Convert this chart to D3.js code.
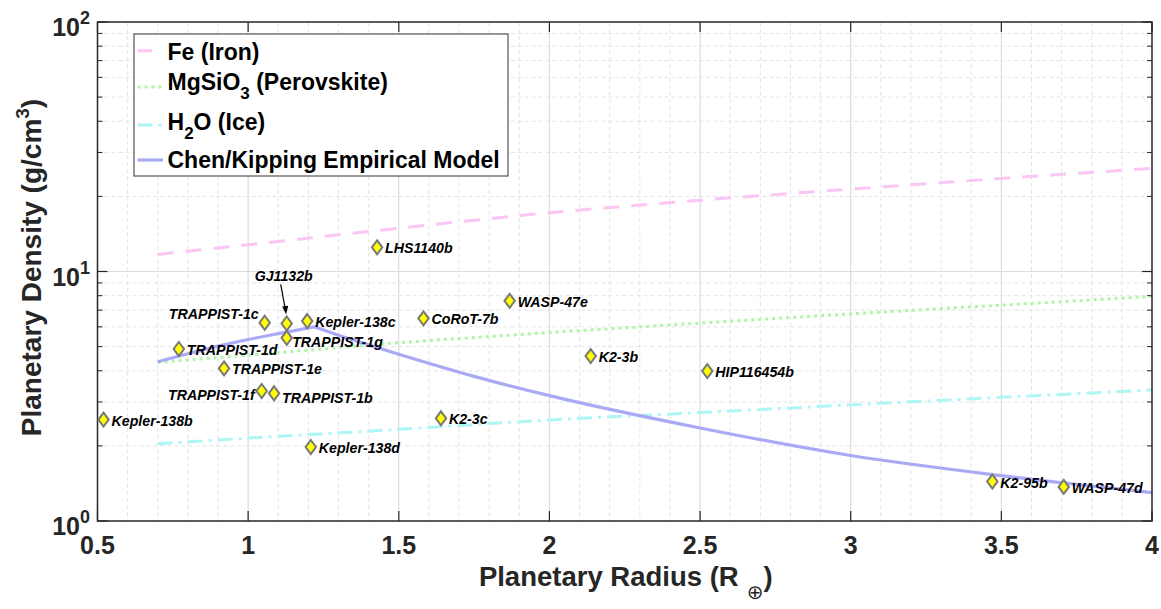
<!DOCTYPE html>
<html>
<head>
<meta charset="utf-8">
<script src="https://cdn.jsdelivr.net/npm/d3@7"></script>
<style>
  body { margin: 0; background: #fff; }
  svg { display: block; }
  text { font-family: "Liberation Sans", Arial, Helvetica, sans-serif; }
</style>
</head>
<body>
<svg id="chart" width="1161" height="609"></svg>
<script>
// Observed planets: radius (Earth radii) and bulk density (g/cm^3)
const planetNames = ["Kepler-138b", "TRAPPIST-1d", "TRAPPIST-1e", "TRAPPIST-1f", "TRAPPIST-1b",
  "TRAPPIST-1c", "GJ1132b", "Kepler-138c", "TRAPPIST-1g", "Kepler-138d", "LHS1140b",
  "CoRoT-7b", "WASP-47e", "K2-3c", "K2-3b", "HIP116454b", "K2-95b", "WASP-47d"];
const planetRadius = [0.52, 0.77, 0.92, 1.045, 1.086, 1.055, 1.128, 1.196, 1.128, 1.208, 1.428,
  1.582, 1.868, 1.64, 2.137, 2.524, 3.47, 3.707];
const planetDensity = [2.55, 4.89, 4.09, 3.32, 3.25, 6.23, 6.19, 6.33, 5.42, 1.98, 12.5,
  6.49, 7.63, 2.58, 4.58, 3.99, 1.44, 1.37];

// Pure-composition model curves
const modelRadius = [0.7, 1.0, 1.5, 2.0, 2.5, 3.0, 3.5, 4.0];
const ironDensity = [11.7, 12.8, 14.9, 17.2, 19.3, 21.4, 23.6, 25.9];
const perovskiteDensity = [4.32, 4.62, 5.18, 5.69, 6.21, 6.76, 7.33, 7.95];
const iceDensity = [2.04, 2.15, 2.33, 2.54, 2.72, 2.92, 3.13, 3.35];

// Chen & Kipping empirical relation (terran branch, then neptunian branch)
const chenRadius = [0.7, 0.8, 0.9, 1.0, 1.1, 1.22, 1.3, 1.4, 1.5, 1.75, 2.0, 2.5, 3.0, 3.5, 4.0];
const chenDensity = [4.35, 4.68, 5.02, 5.34, 5.64, 6.0, 5.55, 5.08, 4.66, 3.8, 3.18, 2.36, 1.83, 1.52, 1.30];

// Axis ticks
const xTicks = [0.5, 1, 1.5, 2, 2.5, 3, 3.5, 4];
const xTickLabels = ["0.5", "1", "1.5", "2", "2.5", "3", "3.5", "4"];
const yTicks = [1, 10, 100];
const yTickExponents = ["0", "1", "2"];

const svg = d3.select("#chart");
const plot = { left: 97.5, right: 1152, top: 22, bottom: 521 };
const ink = "#262626";

const x = d3.scaleLinear().domain([0.5, 4]).range([plot.left, plot.right]);
const y = d3.scaleLog().domain([1, 100]).range([plot.bottom, plot.top]);

// ---- grid ----
const grid = svg.append("g");
const xMinor = [];
for (let v = 0.6; v < 4; v += 0.1) {
  const r = Math.round(v * 10) / 10;
  if (Math.abs(r * 2 - Math.round(r * 2)) > 1e-6) xMinor.push(r);
}
const yMinor = [];
[1, 10].forEach(dec => { for (let k = 2; k <= 9; k++) yMinor.push(dec * k); });

grid.selectAll(".xm").data(xMinor).join("line")
  .attr("x1", d => x(d)).attr("x2", d => x(d))
  .attr("y1", plot.top).attr("y2", plot.bottom)
  .attr("stroke", "#e4e4e4").attr("stroke-width", 1).attr("stroke-dasharray", "4,3");
grid.selectAll(".ym").data(yMinor).join("line")
  .attr("y1", d => y(d)).attr("y2", d => y(d))
  .attr("x1", plot.left).attr("x2", plot.right)
  .attr("stroke", "#e4e4e4").attr("stroke-width", 1).attr("stroke-dasharray", "4,3");
grid.selectAll(".xM").data(xTicks.slice(1, -1)).join("line")
  .attr("x1", d => x(d)).attr("x2", d => x(d))
  .attr("y1", plot.top).attr("y2", plot.bottom)
  .attr("stroke", "#dcdcdc").attr("stroke-width", 1.2);
grid.selectAll(".yM").data([10]).join("line")
  .attr("y1", d => y(d)).attr("y2", d => y(d))
  .attr("x1", plot.left).attr("x2", plot.right)
  .attr("stroke", "#dcdcdc").attr("stroke-width", 1.2);

// ---- model curves ----
const curves = svg.append("g").attr("fill", "none");
const line = d3.line().x(d => x(d[0])).y(d => y(d[1])).curve(d3.curveMonotoneX);
const pairs = (rs, ds) => rs.map((r, i) => [r, ds[i]]);

const styles = {
  iron: { color: "#fbc6f4", dash: "16,12", width: 3 },
  perovskite: { color: "#aef5a6", dash: "3,4", width: 3 },
  ice: { color: "#aef6f6", dash: "15,6,3,6", width: 3 },
  chen: { color: "#a9a9f5", dash: null, width: 3.2 }
};

curves.append("path").attr("d", line(pairs(modelRadius, ironDensity)))
  .attr("stroke", styles.iron.color).attr("stroke-width", styles.iron.width).attr("stroke-dasharray", styles.iron.dash);
curves.append("path").attr("d", line(pairs(modelRadius, perovskiteDensity)))
  .attr("stroke", styles.perovskite.color).attr("stroke-width", styles.perovskite.width).attr("stroke-dasharray", styles.perovskite.dash);
curves.append("path").attr("d", line(pairs(modelRadius, iceDensity)))
  .attr("stroke", styles.ice.color).attr("stroke-width", styles.ice.width).attr("stroke-dasharray", styles.ice.dash);

// Chen/Kipping has a break at the terran/neptunian transition
const chenPts = pairs(chenRadius, chenDensity);
const peak = d3.maxIndex(chenDensity);
const chenPath = line(chenPts.slice(0, peak + 1)) + line(chenPts.slice(peak)).replace(/^M/, "L");
curves.append("path").attr("d", chenPath)
  .attr("stroke", styles.chen.color).attr("stroke-width", styles.chen.width);

// ---- axes box and ticks ----
const axes = svg.append("g").attr("stroke", ink);
axes.append("rect").attr("x", plot.left).attr("y", plot.top)
  .attr("width", plot.right - plot.left).attr("height", plot.bottom - plot.top)
  .attr("fill", "none").attr("stroke-width", 1.5);
xTicks.forEach(v => {
  axes.append("line").attr("x1", x(v)).attr("x2", x(v)).attr("y1", plot.bottom).attr("y2", plot.bottom - 10).attr("stroke-width", 1.2);
  axes.append("line").attr("x1", x(v)).attr("x2", x(v)).attr("y1", plot.top).attr("y2", plot.top + 10).attr("stroke-width", 1.2);
});
yTicks.forEach(v => {
  axes.append("line").attr("y1", y(v)).attr("y2", y(v)).attr("x1", plot.left).attr("x2", plot.left + 10).attr("stroke-width", 1.2);
  axes.append("line").attr("y1", y(v)).attr("y2", y(v)).attr("x1", plot.right).attr("x2", plot.right - 10).attr("stroke-width", 1.2);
});
yMinor.forEach(v => {
  axes.append("line").attr("y1", y(v)).attr("y2", y(v)).attr("x1", plot.left).attr("x2", plot.left + 5).attr("stroke-width", 1);
  axes.append("line").attr("y1", y(v)).attr("y2", y(v)).attr("x1", plot.right).attr("x2", plot.right - 5).attr("stroke-width", 1);
});

// tick labels
const tickFont = 25;
svg.append("g").selectAll("text").data(xTicks).join("text")
  .attr("x", d => x(d)).attr("y", plot.bottom + 33)
  .attr("text-anchor", "middle").attr("font-size", tickFont).attr("font-weight", "bold")
  .attr("fill", ink).text((d, i) => xTickLabels[i]);

const yLab = svg.append("g");
yTicks.forEach((v, i) => {
  const t = yLab.append("text").attr("x", 90).attr("y", y(v) + 14)
    .attr("text-anchor", "end").attr("font-weight", "bold").attr("fill", ink)
    .attr("font-size", tickFont);
  t.append("tspan").text("10");
  t.append("tspan").attr("dy", -12).attr("font-size", 18).text(yTickExponents[i]);
});

// axis titles
const xt = svg.append("text").attr("x", (plot.left + plot.right) / 2 + 1).attr("y", 586)
  .attr("text-anchor", "middle").attr("font-size", 27.5).attr("font-weight", "bold").attr("fill", ink);
xt.append("tspan").text("Planetary Radius (R");
xt.append("tspan").attr("dx", 8).attr("dy", 13).attr("font-size", 20).attr("font-weight", "normal")
  .attr("font-family", "DejaVu Sans").text("⊕");
xt.append("tspan").attr("dy", -13).text(")");

const yt = svg.append("text")
  .attr("transform", `translate(41,${(plot.top + plot.bottom) / 2 - 4}) rotate(-90)`)
  .attr("text-anchor", "middle").attr("font-size", 28).attr("font-weight", "bold").attr("fill", ink);
yt.append("tspan").text("Planetary Density (g/cm");
yt.append("tspan").attr("dy", -12).attr("font-size", 19).text("3");
yt.append("tspan").attr("dy", 12).text(")");

// ---- planets ----
const diamond = "M0,-7L5.2,0L0,7L-5.2,0Z";
const pts = svg.append("g");
planetNames.forEach((name, i) => {
  pts.append("path").attr("d", diamond)
    .attr("transform", `translate(${x(planetRadius[i])},${y(planetDensity[i])})`)
    .attr("fill", "#ffff00").attr("stroke", "#787878").attr("stroke-width", 2);
});

// label placement relative to each marker
const labelPlacement = {
  "TRAPPIST-1c": { dx: -6, dy: -9, anchor: "end" },
  "TRAPPIST-1f": { dx: -7, dy: 3.5, anchor: "end" },
  "TRAPPIST-1g": { dx: 5.5, dy: 4.5, anchor: "start" },
  "TRAPPIST-1b": { dx: 8, dy: 4.5, anchor: "start" },
  "GJ1132b": { dx: -3, dy: -48, anchor: "middle" }
};
const labels = svg.append("g").attr("font-size", 14.2).attr("font-weight", "bold")
  .attr("font-style", "italic").attr("fill", "#000");
planetNames.forEach((name, i) => {
  const px = x(planetRadius[i]), py = y(planetDensity[i]);
  const p = labelPlacement[name] || { dx: 8, dy: 1, anchor: "start" };
  labels.append("text").attr("x", px + p.dx).attr("y", py + p.dy)
    .attr("dy", "0.36em").attr("text-anchor", p.anchor).text(name);
  if (name === "GJ1132b") {
    svg.append("line").attr("x1", px - 6).attr("y1", py - 39).attr("x2", px - 1.2).attr("y2", py - 13)
      .attr("stroke", "#000").attr("stroke-width", 1.2);
    svg.append("path")
      .attr("d", `M${px - 0.6},${py - 9}L${px - 4.5},${py - 17}L${px + 1.5},${py - 17.8}Z`)
      .attr("fill", "#000");
  }
});

// ---- legend ----
const legend = svg.append("g");
legend.append("rect").attr("x", 134).attr("y", 34).attr("width", 374).attr("height", 142)
  .attr("fill", "#fff").attr("stroke", "#555").attr("stroke-width", 1.2);
const legendRows = [
  { key: "iron", lineY: 50.7, textY: 60, x2: 152, parts: [["Fe (Iron)"]] },
  { key: "perovskite", lineY: 87, textY: 89.5, x2: 162, parts: [["MgSiO"], ["3", "sub"], [" (Perovskite)"]] },
  { key: "ice", lineY: 125, textY: 130, x2: 162, parts: [["H"], ["2", "sub"], ["O (Ice)"]] },
  { key: "chen", lineY: 160, textY: 167.5, x2: 163, parts: [["Chen/Kipping Empirical Model"]] }
];
legendRows.forEach(row => {
  const s = styles[row.key];
  legend.append("line").attr("x1", 137.5).attr("x2", row.x2).attr("y1", row.lineY).attr("y2", row.lineY)
    .attr("stroke", s.color).attr("stroke-width", s.width).attr("stroke-dasharray", s.dash);
  const t = legend.append("text").attr("x", 167.5).attr("y", row.textY)
    .attr("font-size", 23).attr("font-weight", "bold").attr("fill", "#000");
  let shifted = false;
  row.parts.forEach(([str, kind]) => {
    const ts = t.append("tspan").text(str);
    if (kind === "sub") { ts.attr("dy", 9).attr("font-size", 17); shifted = true; }
    else if (shifted) { ts.attr("dy", -9); shifted = false; }
  });
});
</script>
</body>
</html>
